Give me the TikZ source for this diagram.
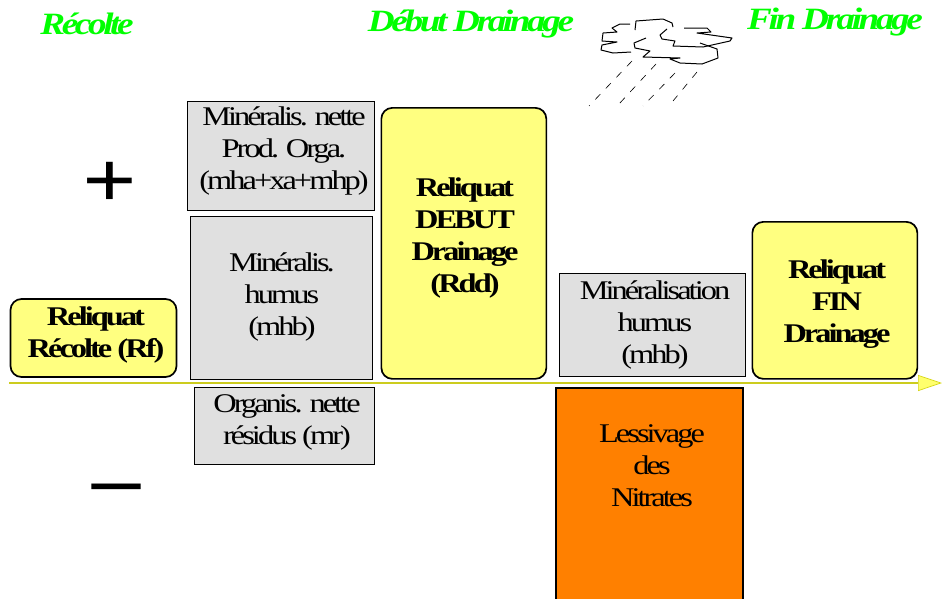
\documentclass[tikz,border=0pt]{standalone}
\usepackage{fontspec}
\setmainfont[LetterSpace=-11,FakeStretch=1.2]{Liberation Serif}
\usetikzlibrary{arrows.meta}
\definecolor{boxyellow}{RGB}{255,255,128}
\definecolor{boxgray}{RGB}{224,224,224}
\definecolor{boxorange}{RGB}{255,128,0}
\definecolor{axisyellow}{RGB}{204,204,30}
\definecolor{titlegreen}{RGB}{0,255,0}
\tikzset{
    reliquat/.style={draw, line width=1.7pt, fill=boxyellow, rounded corners=11pt, inner sep=0pt},
    flux/.style={draw, line width=1.2pt, fill=boxgray, inner sep=0pt},
    fluxtxt/.style={align=center, font=\fontsize{27}{32}\selectfont, inner sep=0pt},
    reliquattxt/.style={align=center, font=\fontsize{27}{32}\selectfont\bfseries, inner sep=0pt},
    titre/.style={text=titlegreen, font=\fontsize{31}{32}\selectfont\bfseries\itshape, inner sep=0pt},
    signe/.style={font=\fontsize{80}{80}\selectfont\bfseries, inner sep=0pt},
    nuage/.style={line width=1pt, line join=round},
    pluie/.style={line width=0.6pt, dash pattern=on 7.3pt off 8pt},
}
\begin{document}
\begin{tikzpicture}[x=1pt,y=-1pt]
    \useasboundingbox (0,0) rectangle (942,598);
    % axis
    \coordinate (start) at (9,383);
    \coordinate (end) at (942,383);
    \draw[axisyellow, line width=2pt, -{Triangle[length=24pt,width=16pt,fill=boxyellow!85!yellow,color=axisyellow!80!yellow,line width=0.7pt]}] (start) -- (end);
    % boxes
    \node (recolte) [reliquat, minimum width=166pt, minimum height=78pt] at (93.5,338) {};
    \node (recoltetxt) [reliquattxt] at (96,335) {Reliquat\\Récolte (Rf)};
    \node (orga) [flux, minimum width=187pt, minimum height=109pt, anchor=north west] at (187,101) {};
    \node (orgatxt) [fluxtxt] at (284,151) {Minéralis. nette\\Prod. Orga.\\(mha+xa+mhp)};
    \node (humus) [flux, minimum width=182pt, minimum height=163pt, anchor=north west] at (190,216) {};
    \node (humustxt) [fluxtxt] at (282,297) {Minéralis.\\humus\\(mhb)};
    \node (residus) [flux, minimum width=180pt, minimum height=77pt, anchor=north west] at (194,387) {};
    \node (residustxt) [fluxtxt] at (287,422) {Organis. nette\\résidus (mr)};
    \node (debut) [reliquat, minimum width=165pt, minimum height=271pt, anchor=north west] at (380.5,107) {};
    \node (debuttxt) [reliquattxt] at (465,238) {Reliquat\\DEBUT\\Drainage\\(Rdd)};
    \node (humus2) [flux, minimum width=186pt, minimum height=103pt, anchor=north west] at (559,273) {};
    \node (humus2txt) [fluxtxt] at (655,325) {Minéralisation\\humus\\(mhb)};
    \node (lessivage) [flux, fill=boxorange, line width=1.6pt, minimum width=187pt, minimum height=214pt, anchor=north west] at (555,387) {};
    \node (lessivagetxt) [fluxtxt] at (652,466) {Lessivage\\des\\Nitrates};
    \node (fin) [reliquat, minimum width=165pt, minimum height=157pt, anchor=north west] at (751.5,221) {};
    \node (fintxt) [reliquattxt] at (837,304) {Reliquat\\FIN\\Drainage};
    % titles
    \node (t1) [titre] at (87,24) {Récolte};
    \node (t2) [titre] at (471,24) {Début Drainage};
    \node (t3) [titre] at (835,22) {Fin Drainage};
    % signs
    \node (plus) [signe] at (110,185) {+};
    \node (moins) [signe] at (116,495) {--};
    % cloud
    \draw[nuage] (630,24) -- (620,24) -- (612,28) -- (617,32) -- (603,33) -- (602,41) -- (617,42) -- (602,45) -- (601,50) -- (613,53) -- (631,52);
    \draw[nuage] (635,30) -- (636,21) -- (663,19) -- (672,23) -- (673,27);
    \draw[nuage] (667,29) -- (660,35) -- (662,39) -- (675,41) -- (673,46) -- (703,47) -- (730,41) -- (732,38) -- (697,33) -- (711,32) -- (707,28) -- (684,28);
    \draw[nuage] (700,43) -- (717,49) -- (718,58) -- (702,64) -- (680,63) -- (670,59) -- (680,58) -- (643,57) -- (650,51) -- (635,48) -- (634,43) -- (646,38);
    % rain
    \foreach \xa/\ya/\xb/\yb in {632/61/589/106, 656/64/619/104, 675/73/643/106, 697/72/673/101}
        \draw[pluie] (\xa,\ya) -- (\xb,\yb);
\end{tikzpicture}
\end{document}
